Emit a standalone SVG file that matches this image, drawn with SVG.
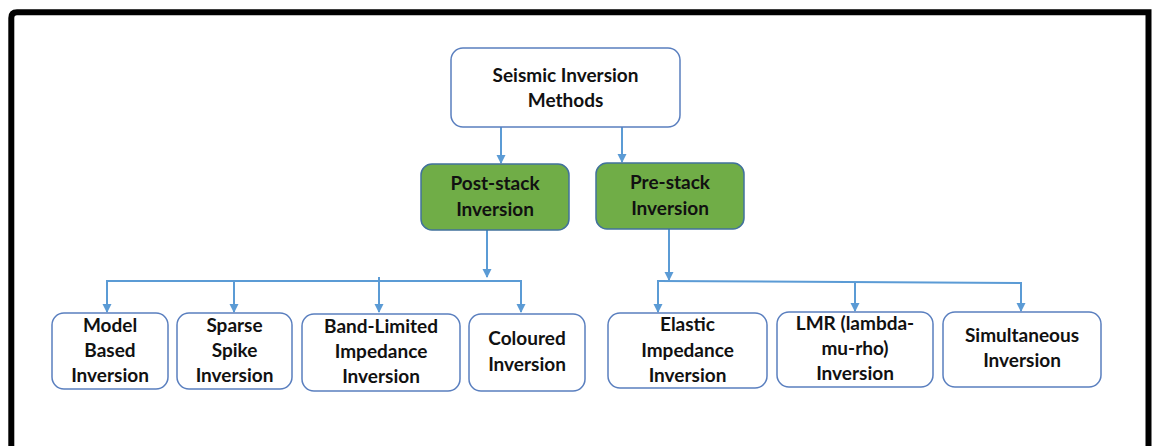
<svg xmlns="http://www.w3.org/2000/svg" width="1152" height="446" viewBox="0 0 1152 446">
<style>
.box{fill:#ffffff;stroke:#5a7fbf;stroke-width:1.5}
.green{fill:#70ad47;stroke:#41719c;stroke-width:1.5}
.t{font-family:Lato,"Liberation Sans",sans-serif;font-weight:bold;font-size:19px;fill:#111111;text-anchor:middle}
.c{fill:none;stroke:#5b9bd5;stroke-width:2}
</style>
<defs>
<marker id="ah" markerWidth="10" markerHeight="10" refX="8" refY="4.5" orient="auto" markerUnits="userSpaceOnUse">
<path d="M0,0 L9,4.5 L0,9 Z" fill="#5b9bd5"/>
</marker>
</defs>
<rect width="1152" height="446" fill="#ffffff"/>
<path d="M11.3,450 V18 Q11.3,12.3 17,12.3 H1148.5 V450" fill="none" stroke="#000000" stroke-width="6"/>

<g id="connectors">
<path class="c" d="M501,127 V163" marker-end="url(#ah)"/>
<path class="c" d="M622,127 V162" marker-end="url(#ah)"/>
<path class="c" d="M487,230 V277" marker-end="url(#ah)"/>
<path class="c" d="M107,281 H521"/>
<path class="c" d="M107,280 V312" marker-end="url(#ah)"/>
<path class="c" d="M234,281 V312" marker-end="url(#ah)"/>
<path class="c" d="M379,277 V312" marker-end="url(#ah)"/>
<path class="c" d="M521,280 V312" marker-end="url(#ah)"/>
<path class="c" d="M669,229 V280" marker-end="url(#ah)"/>
<path class="c" d="M658,281 L1021,283"/>
<path class="c" d="M658,280 V312" marker-end="url(#ah)"/>
<path class="c" d="M855,282 V311" marker-end="url(#ah)"/>
<path class="c" d="M1021,282 V311" marker-end="url(#ah)"/>
</g>

<g id="n-root">
<rect class="box" x="451" y="48" width="229" height="79" rx="12"/>
<text class="t" x="565.5" y="82">Seismic Inversion</text>
<text class="t" x="565.5" y="107">Methods</text>
</g>
<g id="n-post">
<rect class="green" x="421" y="164" width="148" height="66" rx="11"/>
<text class="t" x="495" y="190">Post-stack</text>
<text class="t" x="495" y="216">Inversion</text>
</g>
<g id="n-pre">
<rect class="green" x="596" y="163" width="148" height="66" rx="11"/>
<text class="t" x="670" y="189">Pre-stack</text>
<text class="t" x="670" y="215">Inversion</text>
</g>
<g id="n-model">
<rect class="box" x="52" y="313" width="116" height="76" rx="12"/>
<text class="t" x="110" y="332">Model</text>
<text class="t" x="110" y="357">Based</text>
<text class="t" x="110" y="382">Inversion</text>
</g>
<g id="n-sparse">
<rect class="box" x="177" y="313" width="115" height="76" rx="12"/>
<text class="t" x="234.5" y="332">Sparse</text>
<text class="t" x="234.5" y="357">Spike</text>
<text class="t" x="234.5" y="382">Inversion</text>
</g>
<g id="n-band">
<rect class="box" x="302" y="314" width="158" height="77" rx="12"/>
<text class="t" x="381" y="333">Band-Limited</text>
<text class="t" x="381" y="358">Impedance</text>
<text class="t" x="381" y="383">Inversion</text>
</g>
<g id="n-coloured">
<rect class="box" x="469" y="314" width="116" height="77" rx="12"/>
<text class="t" x="527" y="345">Coloured</text>
<text class="t" x="527" y="371">Inversion</text>
</g>
<g id="n-elastic">
<rect class="box" x="608" y="313" width="159" height="75" rx="12"/>
<text class="t" x="687.5" y="331">Elastic</text>
<text class="t" x="687.5" y="357">Impedance</text>
<text class="t" x="687.5" y="382">Inversion</text>
</g>
<g id="n-lmr">
<rect class="box" x="777" y="312" width="156" height="75" rx="12"/>
<text class="t" x="855" y="330">LMR (lambda-</text>
<text class="t" x="855" y="355">mu-rho)</text>
<text class="t" x="855" y="380">Inversion</text>
</g>
<g id="n-simul">
<rect class="box" x="943" y="312" width="158" height="75" rx="12"/>
<text class="t" x="1022" y="342">Simultaneous</text>
<text class="t" x="1022" y="367">Inversion</text>
</g>
</svg>
